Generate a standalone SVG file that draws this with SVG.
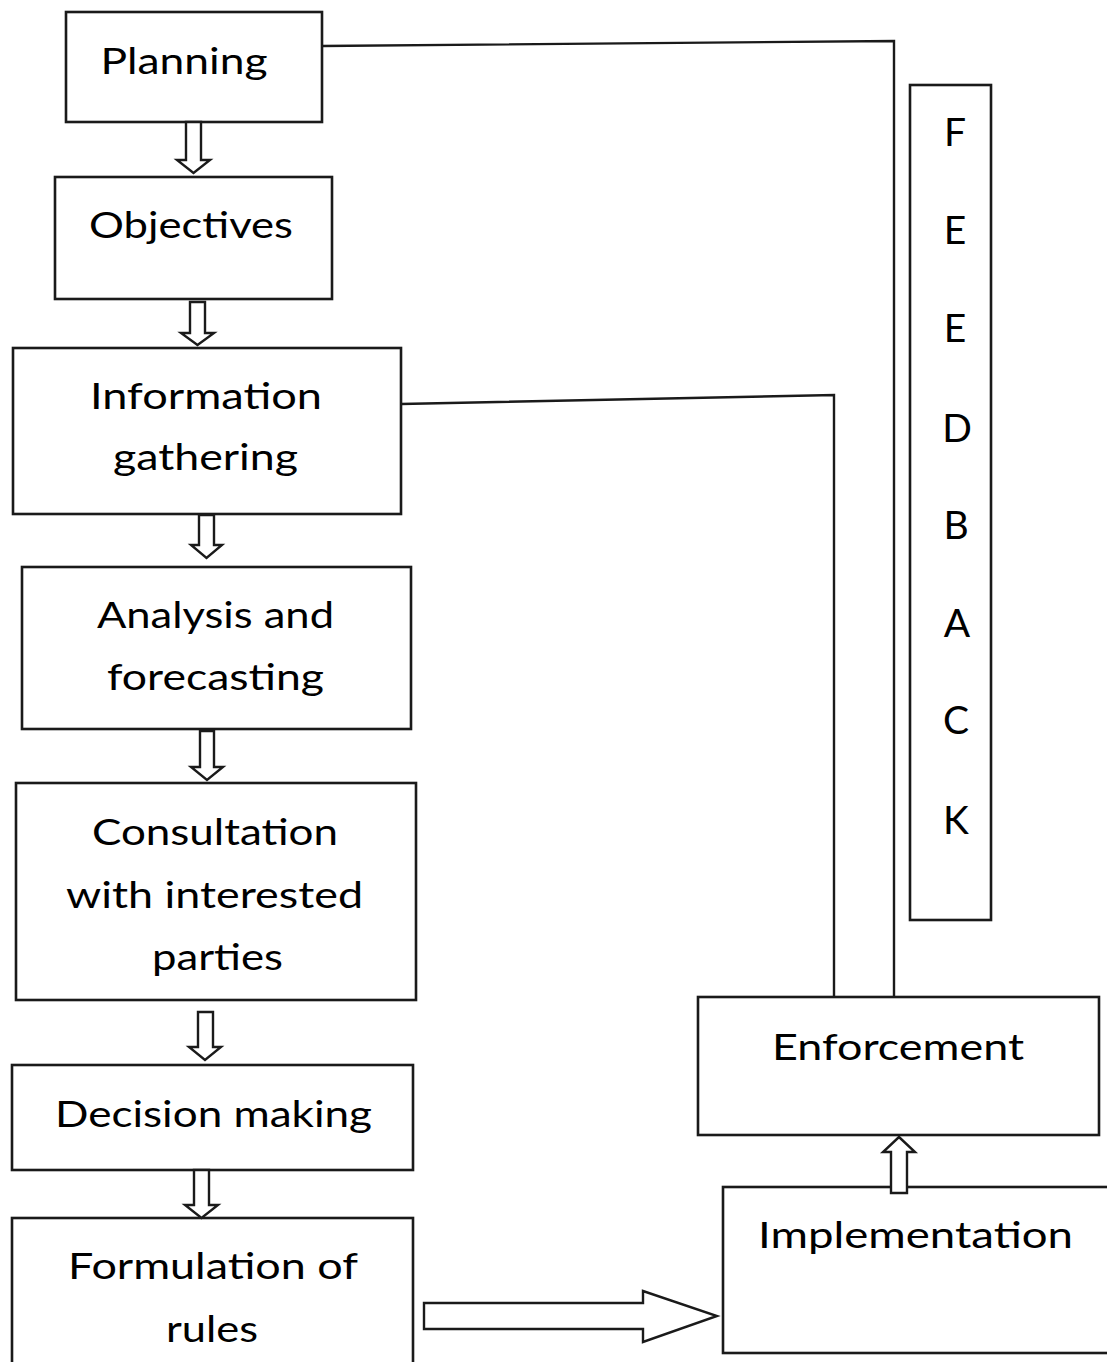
<svg xmlns="http://www.w3.org/2000/svg" width="1107" height="1362" viewBox="0 0 1107 1362">
<style>
.box{fill:#fff;stroke:#1a1a1a;stroke-width:2.6}
.arr{fill:#fff;stroke:#1a1a1a;stroke-width:2.4;stroke-linejoin:miter}
.ln{fill:none;stroke:#1a1a1a;stroke-width:2.4}
.t{font-family:Lato,"Open Sans","Liberation Sans",sans-serif;font-size:37px;fill:#000;text-anchor:middle}
.fb{font-family:Lato,"Open Sans","Liberation Sans",sans-serif;font-size:39px;fill:#000;text-anchor:middle}
</style>
<rect width="1107" height="1362" fill="#fff"/>
<g id="planning"><rect class="box" x="66" y="12" width="256" height="110"/><text class="t" x="184" y="74" textLength="167" lengthAdjust="spacingAndGlyphs">Planning</text></g>
<g id="objectives"><rect class="box" x="55" y="177" width="277" height="122"/><text class="t" x="191" y="238" textLength="204" lengthAdjust="spacingAndGlyphs">Objectives</text></g>
<g id="information"><rect class="box" x="13" y="348" width="388" height="166"/><text class="t" x="206" y="409" textLength="232" lengthAdjust="spacingAndGlyphs">Information</text><text class="t" x="205.5" y="470" textLength="185" lengthAdjust="spacingAndGlyphs">gathering</text></g>
<g id="analysis"><rect class="box" x="22" y="567" width="389" height="162"/><text class="t" x="215.5" y="628" textLength="237" lengthAdjust="spacingAndGlyphs">Analysis and</text><text class="t" x="215.5" y="690" textLength="217" lengthAdjust="spacingAndGlyphs">forecasting</text></g>
<g id="consultation"><rect class="box" x="16" y="783" width="400" height="217"/><text class="t" x="215" y="845" textLength="246" lengthAdjust="spacingAndGlyphs">Consultation</text><text class="t" x="214.5" y="908" textLength="297" lengthAdjust="spacingAndGlyphs">with interested</text><text class="t" x="217.5" y="970" textLength="131" lengthAdjust="spacingAndGlyphs">parties</text></g>
<g id="decision"><rect class="box" x="12" y="1065" width="401" height="105"/><text class="t" x="213.5" y="1127" textLength="317" lengthAdjust="spacingAndGlyphs">Decision making</text></g>
<g id="formulation"><rect class="box" x="12" y="1218" width="401" height="160"/><text class="t" x="213" y="1279" textLength="290" lengthAdjust="spacingAndGlyphs">Formulation of</text><text class="t" x="212" y="1342" textLength="92" lengthAdjust="spacingAndGlyphs">rules</text></g>
<g id="enforcement"><rect class="box" x="698" y="997" width="401" height="138"/><text class="t" x="898" y="1060" textLength="252" lengthAdjust="spacingAndGlyphs">Enforcement</text></g>
<g id="implementation"><rect class="box" x="723" y="1187" width="400" height="166"/><text class="t" x="915.5" y="1248" textLength="315" lengthAdjust="spacingAndGlyphs">Implementation</text></g>
<g id="feedback"><rect class="box" x="910" y="85" width="81" height="835"/>
<text class="fb" x="955" y="146">F</text>
<text class="fb" x="955" y="244">E</text>
<text class="fb" x="955" y="342">E</text>
<text class="fb" x="957" y="442">D</text>
<text class="fb" x="956" y="539">B</text>
<text class="fb" x="957" y="637">A</text>
<text class="fb" x="956" y="734">C</text>
<text class="fb" x="956" y="834">K</text>
</g>
<g id="connectors">
<path class="ln" d="M322,46 L894,41 L894,997"/>
<path class="ln" d="M401,404 L834,395 L834,997"/>
<path class="arr" d="M186,122 L201,122 L201,160 L210,160 L193.5,173 L177,160 L186,160 Z"/>
<path class="arr" d="M190,302 L205,302 L205,333 L214,333 L197.5,345 L181,333 L190,333 Z"/>
<path class="arr" d="M199,515 L214,515 L214,545 L222,545 L206.5,558 L191,545 L199,545 Z"/>
<path class="arr" d="M200,731 L214,731 L214,767 L223,767 L207,780 L191,767 L200,767 Z"/>
<path class="arr" d="M198,1012 L213,1012 L213,1047 L221,1047 L205,1060 L189,1047 L198,1047 Z"/>
<path class="arr" d="M194,1170 L209,1170 L209,1205 L218,1205 L201.5,1218 L185,1205 L194,1205 Z"/>
<path class="arr" d="M891,1193 L907,1193 L907,1152 L915,1152 L899,1137 L883,1152 L891,1152 Z"/>
<path class="arr" d="M424,1303 L643,1303 L643,1291 L717,1316 L643,1342 L643,1329 L424,1329 Z"/>
</g>
</svg>
